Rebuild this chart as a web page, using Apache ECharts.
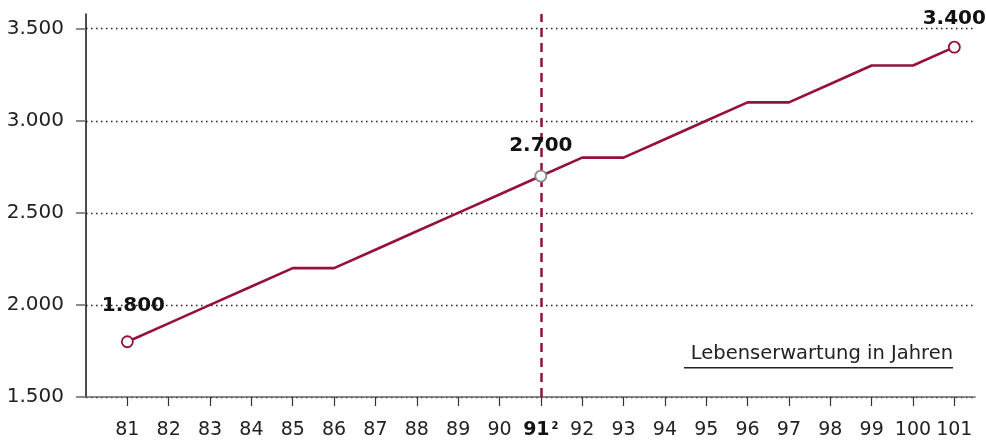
<!DOCTYPE html>
<html>
<head>
<meta charset="utf-8">
<script src="https://cdn.jsdelivr.net/npm/echarts@6/dist/echarts.min.js"></script>
<style>
  html, body { margin: 0; padding: 0; background: #fff; }
  #chart { width: 986px; height: 440px; }
</style>
</head>
<body>
<div id="chart"></div>
<script>
// Alter (Jahre) und Werte
const ages = [81, 82, 83, 84, 85, 86, 87, 88, 89, 90, 91, 92, 93, 94, 95, 96, 97, 98, 99, 100, 101];
const values = [1800, 1900, 2000, 2100, 2200, 2200, 2300, 2400, 2500, 2600, 2700, 2800, 2800, 2900, 3000, 3100, 3100, 3200, 3300, 3300, 3400];
const yTicks = [1500, 2000, 2500, 3000, 3500];
const labelledAges = [81, 91, 101];
const markAge = 91;
const unitText = "Lebenserwartung in Jahren";

const red = "#93103f";
const fmt = (v) => String(v).replace(/\B(?=(\d{3})+(?!\d))/g, ".");

const chart = echarts.init(document.getElementById("chart"));

// Punkte aufbauen, nur bestimmte mit Symbol + Label
const seriesData = ages.map((a, i) => {
  const item = { value: [a, values[i]] };
  if (labelledAges.includes(a)) {
    const mid = a === markAge;
    item.symbol = "circle";
    item.symbolSize = 11;
    item.itemStyle = { color: "#fff", borderColor: mid ? "#888" : red, borderWidth: 1.8 };
    item.label = {
      show: true,
      position: "top",
      distance: a === 81 ? 20 : a === markAge ? 14 : 12,
      offset: a === 81 ? [6, 0] : [0, 0],
      formatter: () => fmt(values[i]),
      fontFamily: "DejaVu Sans",
      fontSize: 20,
      fontWeight: "bold",
      color: "#111",
    };
  } else {
    item.symbol = "none";
  }
  return item;
});

chart.setOption({
  animation: false,
  grid: { left: 86, right: 11, top: 14, bottom: 42 },
  xAxis: {
    type: "value",
    min: 80,
    max: 101.5,
    axisLine: { show: true, lineStyle: { color: "#666", width: 1.5 } },
    axisTick: { show: true, length: 9, customValues: ages, lineStyle: { color: "#333", width: 1.2 } },
    axisLabel: {
      customValues: ages,
      margin: 24,
      fontFamily: "DejaVu Sans",
      fontSize: 19,
      color: "#222",
      formatter: (v) => (v === markAge ? "{b|" + v + "}{sup|2}" : String(v)),
      rich: {
        b: { fontFamily: "DejaVu Sans", fontSize: 19, fontWeight: "bold", color: "#111" },
        sup: { fontFamily: "DejaVu Sans", fontSize: 10, fontWeight: "bold", color: "#111", verticalAlign: "top", padding: [0, 0, 9, 2] },
      },
    },
    splitLine: { show: false },
  },
  yAxis: {
    type: "value",
    min: 1500,
    max: 3580,
    axisLine: { show: true, lineStyle: { color: "#111", width: 1.5 } },
    axisTick: { show: true, length: 10, customValues: yTicks, lineStyle: { color: "#666", width: 1.5 } },
    axisLabel: {
      customValues: yTicks,
      margin: 22,
      fontFamily: "DejaVu Sans",
      fontSize: 20,
      color: "#222",
      formatter: (v) => fmt(v),
    },
    splitLine: { show: true, lineStyle: { color: "#222", width: 1.3, type: [1.5, 3.5] } },
  },
  graphic: [
    {
      type: "text",
      right: 33,
      top: 344,
      style: { text: unitText, fontFamily: "DejaVu Sans", fontSize: 19.5, fill: "#222" },
    },
    {
      type: "rect",
      left: 684,
      top: 367,
      shape: { width: 269, height: 1.5 },
      style: { fill: "#222" },
    },
  ],
  series: [
    {
      type: "line",
      data: seriesData,
      lineStyle: { color: red, width: 2.6 },
      itemStyle: { color: red },
      z: 3,
      markLine: {
        silent: true,
        symbol: "none",
        label: { show: false },
        lineStyle: { color: red, width: 2.5, type: [9, 6] },
        data: [{ xAxis: markAge }],
        z: 2,
      },
    },
  ],
});
</script>
</body>
</html>
